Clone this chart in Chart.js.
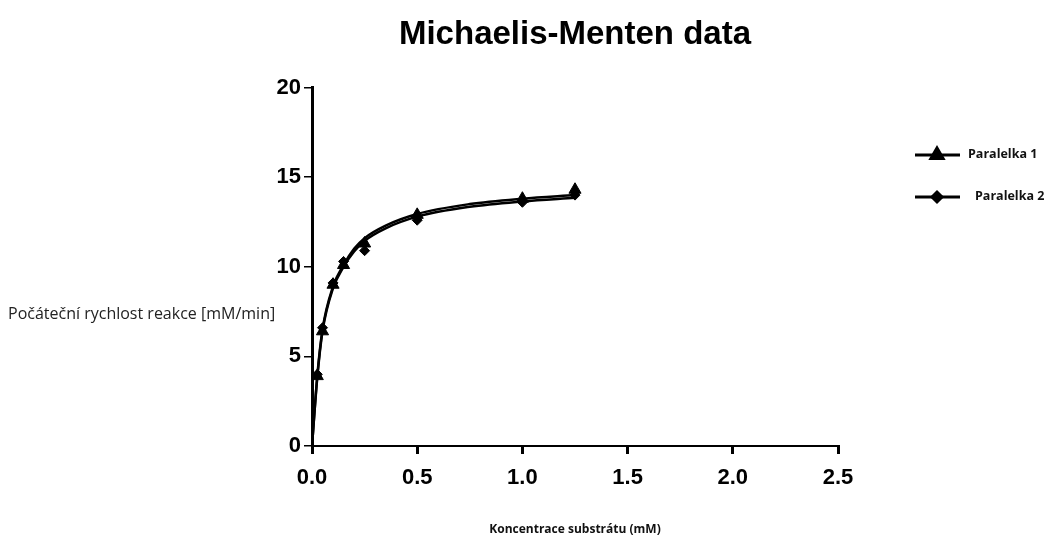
<!DOCTYPE html>
<html lang="cs">
<head>
  <meta charset="UTF-8">
  <title>Michaelis-Menten data</title>
  <style>
    body {
      margin: 0;
      background: white;
    }
    #wrap {
      position: relative;
      width: 1049px;
      height: 541px;
    }
    #ytitle {
      position: absolute;
      left: 8px;
      top: 302px;
      font-family: "Open Sans", sans-serif;
      font-size: 16px;
      color: #222;
      white-space: nowrap;
    }
  </style>
</head>
<body>
  <div id="wrap">
    <canvas id="chart" width="1049" height="541"></canvas>
    <div id="ytitle">Počáteční rychlost reakce [mM/min]</div>
  </div>

  <script src="https://cdn.jsdelivr.net/npm/chart.js"></script>
  <script>
    // measured substrate concentrations (mM)
    const concentrations = [0.025, 0.05, 0.1, 0.15, 0.25, 0.5, 1.0, 1.25];
    const paralelka1 = [3.9, 6.4, 9.0, 10.1, 11.3, 12.9, 13.8, 14.3];
    const paralelka2 = [4.0, 6.6, 9.1, 10.3, 10.9, 12.6, 13.6, 14.0];

    // fitted curves
    const fitX = [0, 0.025, 0.05, 0.1, 0.15, 0.2, 0.25, 0.35, 0.5, 0.75, 1.0, 1.25];
    const fit1 = [0, 3.9, 6.5, 8.9, 10.1, 11.0, 11.6, 12.3, 12.95, 13.5, 13.8, 14.0];
    const fit2 = [0, 3.8, 6.4, 8.8, 10.0, 10.85, 11.45, 12.15, 12.8, 13.35, 13.65, 13.85];

    const xTicks = [0, 0.5, 1.0, 1.5, 2.0, 2.5];
    const yTicks = [0, 5, 10, 15, 20];

    const toXY = (xs, ys) => xs.map((x, i) => ({ x: x, y: ys[i] }));

    const legendBoxes = [
      { y: 155, textX: 968 },
      { y: 197, textX: 975 }
    ];

    const sideLegend = {
      id: 'sideLegend',
      afterDraw(chart) {
        const ctx = chart.ctx;
        const sets = chart.data.datasets.filter(d => d.inLegend);
        sets.forEach((ds, i) => {
          const b = legendBoxes[i];
          ctx.save();
          ctx.strokeStyle = '#000';
          ctx.lineWidth = 3;
          ctx.beginPath();
          ctx.moveTo(915, b.y);
          ctx.lineTo(960, b.y);
          ctx.stroke();
          ctx.fillStyle = '#000';
          Chart.helpers.drawPoint(ctx, {
            pointStyle: ds.pointStyle, radius: ds.pointRadius, borderWidth: 1, rotation: 0
          }, 937, b.y);
          ctx.font = 'bold 12.5px "Open Sans", sans-serif';
          ctx.textBaseline = 'middle';
          ctx.fillStyle = '#111';
          ctx.fillText(ds.label, b.textX, b.y - 1);
          ctx.restore();
        });
      }
    };

    const ctx = document.getElementById('chart').getContext('2d');
    const chart = new Chart(ctx, {
      type: 'scatter',
      data: {
        datasets: [
          {
            label: 'fit 1',
            data: toXY(fitX, fit1),
            showLine: true,
            borderColor: '#000',
            borderWidth: 2.5,
            pointRadius: 0,
            cubicInterpolationMode: 'monotone'
          },
          {
            label: 'fit 2',
            data: toXY(fitX, fit2),
            showLine: true,
            borderColor: '#000',
            borderWidth: 2.5,
            pointRadius: 0,
            cubicInterpolationMode: 'monotone'
          },
          {
            label: 'Paralelka 1',
            inLegend: true,
            data: toXY(concentrations, paralelka1),
            pointStyle: 'triangle',
            pointRadius: 7,
            backgroundColor: '#000',
            borderColor: '#000'
          },
          {
            label: 'Paralelka 2',
            inLegend: true,
            data: toXY(concentrations, paralelka2),
            pointStyle: 'rectRot',
            pointRadius: 5,
            backgroundColor: '#000',
            borderColor: '#000'
          }
        ]
      },
      options: {
        responsive: false,
        animation: false,
        layout: { padding: { left: 0, right: 211, top: 0, bottom: 0 } },
        plugins: {
          legend: { display: false },
          tooltip: { enabled: false },
          title: {
            display: true,
            text: 'Michaelis-Menten data',
            fullSize: false,
            color: '#000',
            font: { family: '"Liberation Sans", Arial, sans-serif', size: 33, weight: 'bold' },
            padding: { top: 15, bottom: 33 }
          }
        },
        scales: {
          x: {
            type: 'linear',
            min: 0,
            max: 2.5,
            afterBuildTicks: s => { s.ticks = xTicks.map(v => ({ value: v })); },
            afterFit: s => { s.height = 95; },
            border: { color: '#000', width: 2 },
            grid: { drawOnChartArea: false, color: '#000', lineWidth: 3, tickLength: 8 },
            ticks: {
              color: '#000',
              padding: 11,
              font: { family: '"Liberation Sans", Arial, sans-serif', size: 22, weight: 'bold' },
              callback: v => v.toFixed(1)
            },
            title: {
              display: true,
              text: 'Koncentrace substrátu (mM)',
              color: '#111',
              font: { family: '"Open Sans", sans-serif', size: 12, weight: 'bold' },
              padding: { top: 0, bottom: 4 }
            }
          },
          y: {
            type: 'linear',
            min: 0,
            max: 20,
            afterBuildTicks: s => { s.ticks = yTicks.map(v => ({ value: v })); },
            afterFit: s => { s.width = 312; },
            border: { color: '#000', width: 3 },
            grid: { drawOnChartArea: false, color: '#000', lineWidth: 1.5, tickLength: 8 },
            ticks: {
              color: '#000',
              padding: 3,
              font: { family: '"Liberation Sans", Arial, sans-serif', size: 22, weight: 'bold' }
            }
          }
        }
      },
      plugins: [sideLegend]
    });
  </script>
</body>
</html>
